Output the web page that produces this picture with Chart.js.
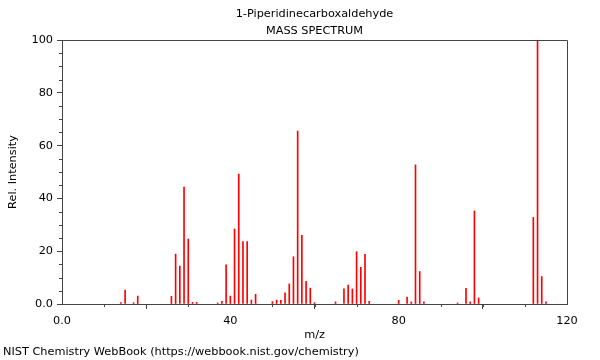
<!DOCTYPE html>
<html>
<head>
<meta charset="utf-8">
<script src="https://cdn.jsdelivr.net/npm/chart.js@4"></script>
<style>
  html, body { margin: 0; padding: 0; background: #fff; }
  #wrap { width: 600px; height: 360px; position: relative; }
</style>
</head>
<body>
<div id="wrap"><canvas id="c" width="600" height="360"></canvas></div>
<script>
// ---- data ----
const titleLines = ['1-Piperidinecarboxaldehyde', 'MASS SPECTRUM'];
const xAxisLabel = 'm/z';
const yAxisLabel = 'Rel. Intensity';
const footerText = 'NIST Chemistry WebBook (https://webbook.nist.gov/chemistry)';
const mz = [14, 15, 17, 18, 26, 27, 28, 29, 30, 31, 32, 37, 38, 39, 40, 41, 42, 43, 44, 45, 46,
            50, 51, 52, 53, 54, 55, 56, 57, 58, 59, 60, 65, 67, 68, 69, 70, 71, 72, 73,
            80, 82, 83, 84, 85, 86, 94, 96, 97, 98, 99, 112, 113, 114, 115];
const intensity = [0.5, 5.3, 0.5, 3.0, 2.9, 18.9, 14.4, 44.3, 24.6, 0.6, 0.6, 0.4, 1.0, 14.8, 3.0, 28.4, 49.2, 23.6, 23.6, 1.5, 3.7,
                   0.9, 1.5, 1.4, 4.2, 7.6, 17.9, 65.5, 26.0, 8.6, 6.0, 0.5, 0.8, 5.7, 7.2, 5.7, 19.8, 13.9, 18.8, 1.0,
                   1.4, 2.6, 0.8, 52.7, 12.3, 0.8, 0.4, 5.9, 0.8, 35.2, 2.3, 32.8, 100, 10.4, 0.8];
const xMajorTicks = [0, 40, 80, 120];
const xTickLabels = ['0.0', '40', '80', '120'];
const yMajorTicks = [0, 20, 40, 60, 80, 100];
const yTickLabels = ['0.0', '20', '40', '60', '80', '100'];
const xMinorStep = 10;
const yMinorStep = 5;

const FONT = 'DejaVu Sans';
const FS = 11.3;
const AXIS_COLOR = '#444';
Chart.defaults.font.family = FONT;
Chart.defaults.font.size = FS;
Chart.defaults.color = '#000';

const points = mz.map((m, i) => ({ x: m, y: intensity[i] }));

const frameAndMinor = {
  id: 'frameAndMinor',
  afterDraw(chart) {
    const { ctx, chartArea: a, scales } = chart;
    ctx.save();
    ctx.strokeStyle = AXIS_COLOR;
    ctx.lineWidth = 1;
    // frame top & right
    ctx.beginPath();
    ctx.moveTo(Math.round(a.left) + 0.5, Math.round(a.top) + 0.5);
    ctx.lineTo(Math.round(a.right) + 0.5, Math.round(a.top) + 0.5);
    ctx.lineTo(Math.round(a.right) + 0.5, Math.round(a.bottom) + 0.5);
    ctx.stroke();
    // minor ticks
    ctx.beginPath();
    for (let v = scales.x.min; v <= scales.x.max; v += xMinorStep) {
      if (xMajorTicks.includes(v)) continue;
      const px = Math.round(scales.x.getPixelForValue(v)) + 0.5;
      ctx.moveTo(px, Math.round(a.bottom));
      ctx.lineTo(px, Math.round(a.bottom) + 3);
    }
    for (let v = scales.y.min; v <= scales.y.max; v += yMinorStep) {
      if (yMajorTicks.includes(v)) continue;
      const py = Math.round(scales.y.getPixelForValue(v)) + 0.5;
      ctx.moveTo(Math.round(a.left) - 3, py);
      ctx.lineTo(Math.round(a.left), py);
    }
    ctx.stroke();
    // footer
    ctx.fillStyle = '#000';
    ctx.font = FS + 'px "' + FONT + '"';
    ctx.textBaseline = 'middle';
    ctx.textAlign = 'left';
    ctx.fillText(footerText, 3, 352);
    ctx.restore();
  }
};

new Chart(document.getElementById('c'), {
  type: 'bar',
  data: {
    datasets: [{
      data: points,
      backgroundColor: 'rgb(255,0,0)',
      borderWidth: 0,
      barThickness: 1
    }]
  },
  options: {
    responsive: false,
    animation: false,
    layout: { padding: { left: 0, right: 33, top: 0, bottom: 0 } },
    plugins: {
      legend: { display: false },
      tooltip: { enabled: false },
      title: {
        display: true,
        fullSize: false,
        text: titleLines,
        color: '#000',
        font: { family: FONT, size: FS, weight: 'normal', lineHeight: 17 / FS },
        padding: { top: 5.5, bottom: 0.5 }
      }
    },
    scales: {
      x: {
        type: 'linear',
        min: 0, max: 120,
        offset: false,
        afterBuildTicks: (s) => { s.ticks = xMajorTicks.map(v => ({ value: v })); },
        afterFit: (s) => { s.height = 56; },
        ticks: {
          autoSkip: false, maxRotation: 0, padding: 5,
          callback: (v) => { const i = xMajorTicks.indexOf(v); return i >= 0 ? xTickLabels[i] : ''; }
        },
        grid: { drawOnChartArea: false, drawTicks: true, tickLength: 5, color: AXIS_COLOR },
        border: { display: true, color: AXIS_COLOR },
        title: { display: true, text: xAxisLabel, font: { size: FS }, padding: { top: 0, bottom: 18 } }
      },
      y: {
        min: 0, max: 100,
        afterBuildTicks: (s) => { s.ticks = yMajorTicks.map(v => ({ value: v })); },
        afterFit: (s) => { s.width = 62; },
        ticks: {
          autoSkip: false, padding: 4,
          callback: (v) => { const i = yMajorTicks.indexOf(v); return i >= 0 ? yTickLabels[i] : ''; }
        },
        grid: { drawOnChartArea: false, drawTicks: true, tickLength: 5, color: AXIS_COLOR },
        border: { display: true, color: AXIS_COLOR },
        title: { display: true, text: yAxisLabel, font: { size: FS }, padding: { top: 6, bottom: 0 } }
      }
    }
  },
  plugins: [frameAndMinor]
});
</script>
</body>
</html>
